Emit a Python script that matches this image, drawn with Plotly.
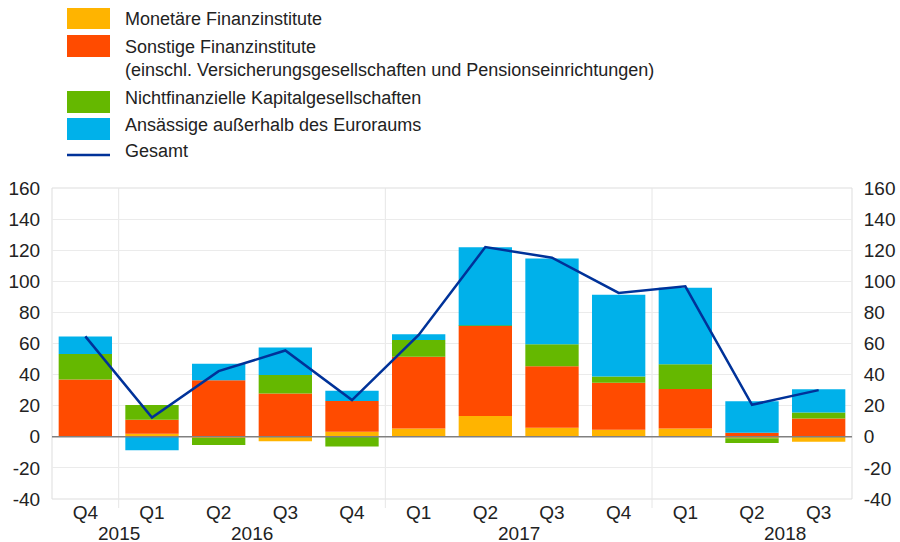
import plotly.graph_objects as go

quarters = ["Q4", "Q1", "Q2", "Q3", "Q4", "Q1", "Q2", "Q3", "Q4", "Q1", "Q2", "Q3"]
years = ["2015", "2016", "2016", "2016", "2016", "2017", "2017", "2017", "2017", "2018", "2018", "2018"]

mfi = [0.0, 2.0, -0.8, -2.8, 3.2, 5.4, 13.3, 5.8, 4.5, 5.4, -1.0, -3.2]
sonstige = [36.8, 8.9, 36.4, 27.8, 19.9, 46.0, 58.0, 39.6, 30.2, 25.4, 2.6, 11.8]
nfc = [16.5, 9.6, -4.5, 12.0, -6.2, 10.9, 0.3, 14.1, 4.1, 15.9, -3.0, 3.8]
nonres = [11.2, -8.6, 10.5, 17.6, 6.5, 3.7, 50.3, 55.1, 52.6, 49.2, 20.3, 15.0]
gesamt = [64.6, 12.4, 42.2, 55.5, 23.6, 65.5, 122.0, 115.2, 92.5, 96.8, 20.6, 30.0]

names = [
    "Monetäre Finanzinstitute",
    "Sonstige Finanzinstitute<br>(einschl. Versicherungsgesellschaften und Pensionseinrichtungen)",
    "Nichtfinanzielle Kapitalgesellschaften",
    "Ansässige außerhalb des Euroraums",
    "Gesamt",
]
colors = ["#FFB400", "#FF4B00", "#65B800", "#00B1EA", "#003299"]

W, H = 900, 542
L, R, T, B = 52, 48, 188, 43
FONT = "Liberation Sans, Arial, sans-serif"
TXT = "#222222"

x = list(range(len(quarters)))
fig = go.Figure()
for vals, nm, col in zip([mfi, sonstige, nfc, nonres], names[:4], colors[:4]):
    fig.add_trace(go.Bar(x=x, y=vals, name=nm, marker=dict(color=col, line=dict(width=0)),
                         width=0.8, showlegend=False))
fig.add_trace(go.Scatter(x=x, y=gesamt, name=names[4], mode="lines", yaxis="y2",
                         line=dict(color=colors[4], width=2.5), showlegend=False))

yr = [-40, 160]
ticks = list(range(-40, 161, 20))
common_y = dict(range=yr, tickvals=ticks, ticktext=[str(t) for t in ticks],
                showgrid=True, gridcolor="#ebebeb", gridwidth=1,
                zeroline=False, showline=False, automargin=False,
                ticks="outside", ticklen=7, tickcolor="rgba(0,0,0,0)",
                tickfont=dict(family=FONT, size=19, color=TXT), fixedrange=True)

fig.update_layout(
    template="none",
    width=W, height=H,
    margin=dict(l=L, r=R, t=T, b=B, pad=0),
    paper_bgcolor="white", plot_bgcolor="white",
    barmode="relative", bargap=0.2,
    font=dict(family=FONT, color=TXT),
    xaxis=dict(range=[-0.5, len(quarters) - 0.5], tickvals=x, ticktext=quarters,
               showgrid=False, zeroline=False, showline=False, automargin=False,
               ticks="",
               tickfont=dict(family=FONT, size=19, color=TXT)),
    yaxis=common_y,
    yaxis2=dict(common_y, overlaying="y", side="right", showgrid=False),
)

# plot frame
fig.add_shape(type="rect", xref="paper", yref="paper", x0=0, x1=1, y0=0, y1=1,
              line=dict(color="#dddddd", width=1), layer="below")
# zero line
fig.add_shape(type="line", xref="paper", yref="y", x0=0, x1=1, y0=0, y1=0,
              line=dict(color="#808080", width=1.5), layer="above")

# year separators (between Q4 and Q1)
ph = H - T - B
for i in range(1, len(quarters)):
    if quarters[i] == "Q1":
        fig.add_shape(type="line", xref="x", yref="paper", x0=i - 0.5, x1=i - 0.5,
                      y0=-9 / ph, y1=1, line=dict(color="#e6e6e6", width=1), layer="below")

# year labels
year_pos = {"2015": 0.5, "2016": 2.5, "2017": 6.5, "2018": 10.5}
for yname, pos in year_pos.items():
    fig.add_annotation(x=pos, y=-(533 - (H - B)) / ph, xref="x", yref="paper",
                       text=yname, showarrow=False, yanchor="middle", xanchor="center",
                       font=dict(family=FONT, size=19, color=TXT))

# custom legend
def py(p):
    return (H - B - p) / ph

def px(p):
    return (p - L) / (W - L - R)

sw = [(8, 29), (35, 57), (91, 113), (118, 140)]
ty = [19, 46, 98, 125, 151]
for k in range(4):
    fig.add_shape(type="rect", xref="paper", yref="paper", x0=px(67), x1=px(110),
                  y0=py(sw[k][1]), y1=py(sw[k][0]), fillcolor=colors[k], line=dict(width=0))
fig.add_shape(type="line", xref="paper", yref="paper", x0=px(67), x1=px(110),
              y0=py(155), y1=py(155), line=dict(color=colors[4], width=2.5))
for k in range(5):
    fig.add_annotation(x=px(123), y=py(ty[k]), xref="paper", yref="paper",
                       text=names[k], showarrow=False, xanchor="left",
                       yanchor="top" if k == 1 else "middle", yshift=11 if k == 1 else 0,
                       align="left",
                       font=dict(family=FONT, size=18, color=TXT))

fig.write_html("out.html", config={"displayModeBar": False},
               post_script="document.body.style.margin='0';document.body.style.overflow='hidden';")
